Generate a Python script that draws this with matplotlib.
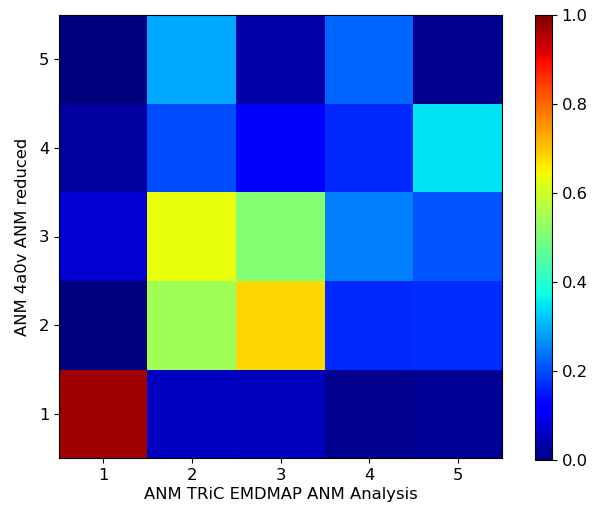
import matplotlib
matplotlib.use("Agg")
import matplotlib.pyplot as plt
import numpy as np

# axis labels / ticks
x_ticks = [1, 2, 3, 4, 5]
y_ticks = [1, 2, 3, 4, 5]

# rows from bottom (y=1) to top (y=5), columns x=1..5
row_1 = [0.97, 0.062, 0.055, 0.015, 0.02]
row_2 = [0.0, 0.545, 0.683, 0.165, 0.17]
row_3 = [0.071, 0.635, 0.508, 0.25, 0.21]
row_4 = [0.028, 0.203, 0.12, 0.165, 0.35]
row_5 = [0.0, 0.292, 0.037, 0.223, 0.015]

data = np.array([row_1, row_2, row_3, row_4, row_5])

plt.rcParams['font.size'] = 11.8

fig = plt.figure(figsize=(5.98, 5.19), dpi=100)
ax = fig.add_axes([59 / 598, 1 - 458 / 519, 443 / 598, 443 / 519])
cax = fig.add_axes([535 / 598, 1 - 460 / 519, 17 / 598, 445 / 519])

im = ax.imshow(data, cmap="jet", origin="lower", vmin=0, vmax=1,
               extent=[0.5, 5.5, 0.5, 5.5], aspect="auto")
ax.set_xticks(x_ticks)
ax.set_yticks(y_ticks)
ax.set_xlabel("ANM TRiC EMDMAP ANM Analysis", labelpad=3)
ax.set_ylabel("ANM 4a0v ANM reduced", labelpad=6)

fig.colorbar(im, cax=cax)

fig.savefig("out.png", dpi=100)
